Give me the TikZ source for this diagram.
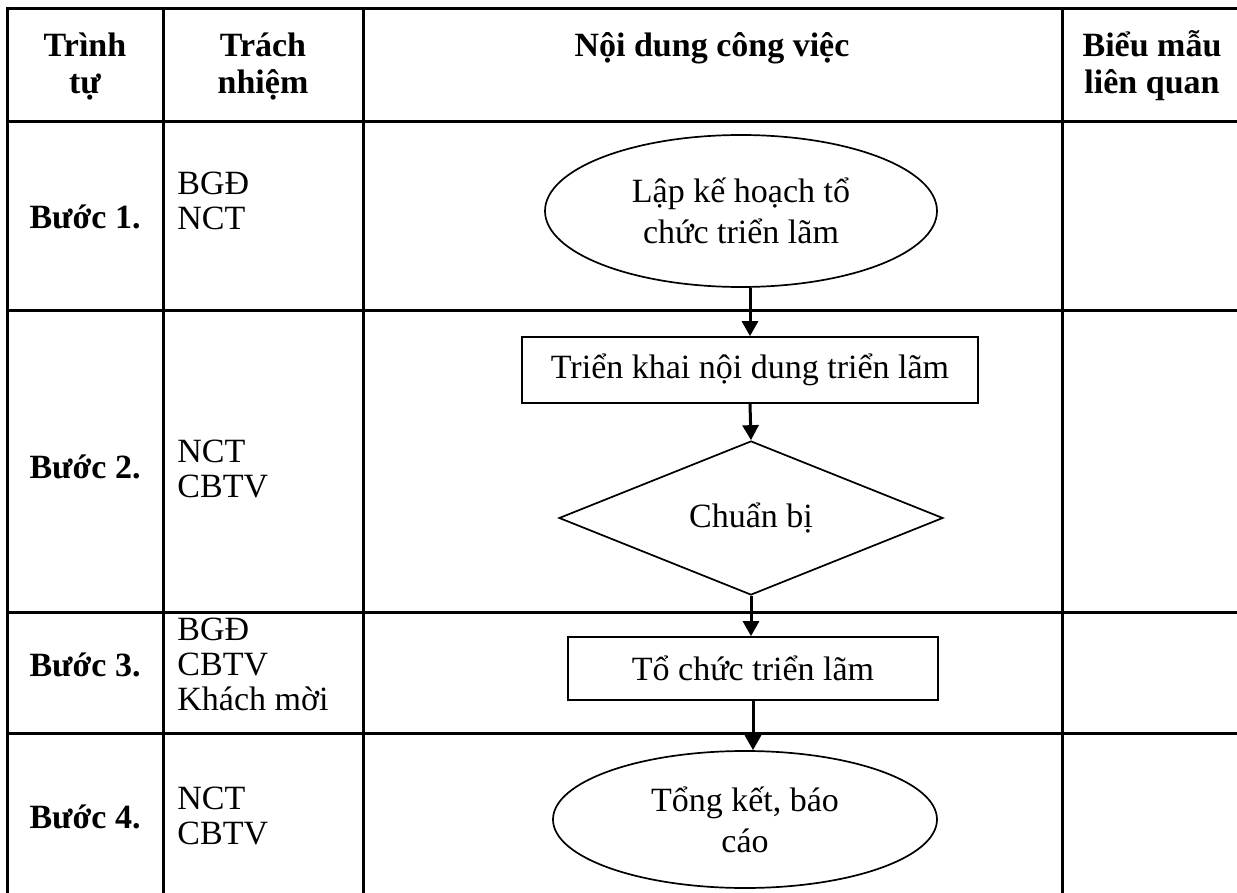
\documentclass[tikz,border=0pt]{standalone}
\usepackage{fontspec}
\setmainfont{Liberation Serif}
\usetikzlibrary{shapes.geometric,arrows.meta}
\begin{document}
\begin{tikzpicture}[x=0.5pt,y=-0.5pt,
  tbl/.style={line width=1.5pt},
  hdr/.style={inner sep=0pt, font=\fontsize{17}{18.5}\selectfont\bfseries, align=center, anchor=base},
  stepl/.style={inner sep=0pt, font=\fontsize{17}{18}\selectfont\bfseries, anchor=base},
  who/.style={inner sep=0pt, font=\fontsize{17}{17.5}\selectfont, align=left, anchor=base west},
  shp/.style={draw, line width=0.85pt, inner sep=0pt, font=\fontsize{17}{20.5}\selectfont, align=center},
  arr/.style={line width=1.5pt, -{Triangle[length=7.5pt,width=8pt]}}
]
\useasboundingbox (0,0) rectangle (1237,893);
% table grid
\draw[tbl] (1240,9) -- (7,9) -- (7,896);
\foreach \yy in {122,311,612,733} \draw[tbl] (7,\yy) -- (1240,\yy);
\foreach \xx in {163,363,1062} \draw[tbl] (\xx,9) -- (\xx,896);
% header
\node[hdr] (h1) at (85,94) {Trình\\tự};
\node[hdr] (h2) at (263,94) {Trách\\nhiệm};
\node[hdr] (h3) at (712,57) {Nội dung công việc};
\node[hdr] (h4) at (1152,94) {Biểu mẫu\\liên quan};
% steps
\node[stepl] (s1) at (85,229) {Bước 1.};
\node[stepl] (s2) at (85,478) {Bước 2.};
\node[stepl] (s3) at (85,676) {Bước 3.};
\node[stepl] (s4) at (85,828) {Bước 4.};
% responsibilities
\node[who] (r1) at (177,230) {BGĐ\\NCT};
\node[who] (r2) at (177,497) {NCT\\CBTV};
\node[who] (r3) at (177,710) {BGĐ\\CBTV\\Khách mời};
\node[who] (r4) at (177,844) {NCT\\CBTV};
% flow
\node[shp, ellipse, minimum width=196pt, minimum height=76pt] (e1) at (741,211) {Lập kế hoạch tổ\\chức triển lãm};
\node[shp, rectangle, minimum width=228pt, minimum height=33pt] (b1) at (750,370) {Triển khai nội dung triển lãm};
\node[shp, diamond, minimum width=192pt, minimum height=67pt] (d) at (751,518) {Chuẩn bị};
\node[shp, rectangle, minimum width=185pt, minimum height=31.5pt] (b2) at (753,668.5) {Tổ chức triển lãm};
\node[shp, ellipse, minimum width=192pt, minimum height=68.5pt] (e2) at (745,819.5) {Tổng kết, báo\\cáo};
\draw[arr] (b1.north |- e1.south) -- (b1.north);
\draw[arr] (b1.south) -- (d.north);
\draw[arr] (d.south) -- (d.south |- b2.north);
\draw[arr] (b2.south) -- (b2.south |- e2.north);
\end{tikzpicture}
\end{document}
